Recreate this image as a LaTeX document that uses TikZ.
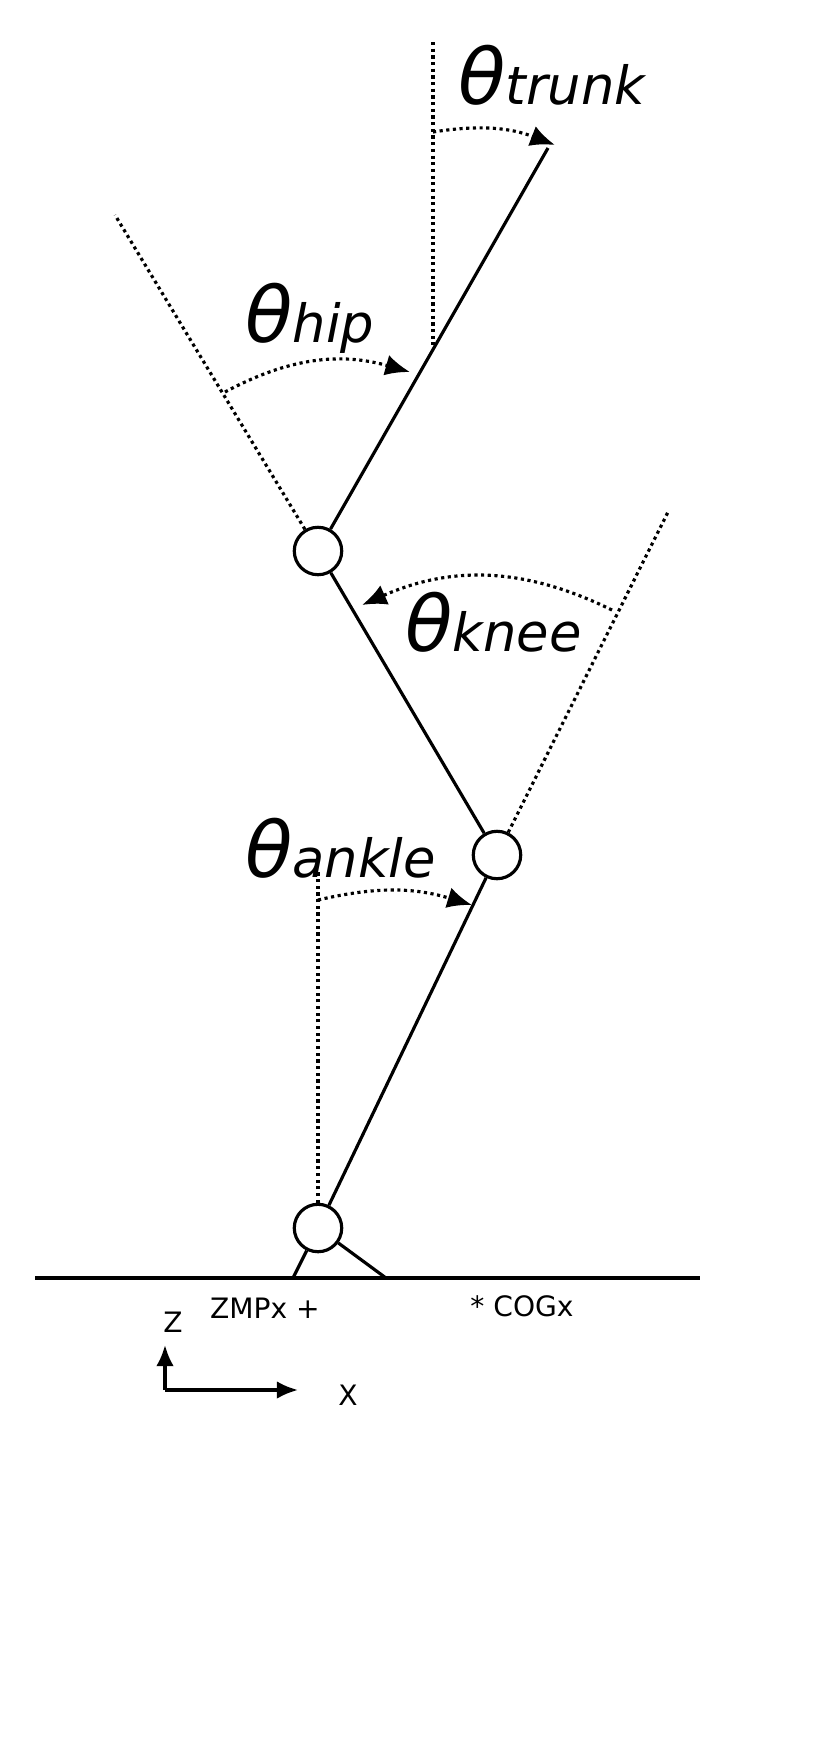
\documentclass[tikz,border=0pt]{standalone}
\usepackage{fontspec}
\setmainfont{DejaVu Sans}
\usetikzlibrary{arrows.meta,positioning}
\tikzset{
  limb/.style={line width=1.8pt},
  guide/.style={dotted,line width=1.8pt},
  turn/.style={dotted,line width=1.8pt,-{Latex[length=14pt,width=12pt]}},
  joint/.style={circle,draw,fill=white,line width=1.8pt,minimum size=27pt,inner sep=0pt},
  angle/.style={font=\fontsize{44}{48}\selectfont\itshape,inner sep=0pt},
  small/.style={font=\fontsize{16}{18}\selectfont,inner sep=0pt}
}
\newcommand{\ang}[1]{θ{\fontsize{30}{32}\selectfont #1}}
\begin{document}
\begin{tikzpicture}[x=0.02cm,y=-0.02cm]
	\useasboundingbox (0,0) rectangle (814,1738);
	% links
	\coordinate (top) at (548,148);
	\node[joint] (hip) at (318,551) {};
	\node[joint] (knee) at (497,855) {};
	\node[joint] (ankle) at (318,1228) {};
	\draw[limb] (top) -- (hip);
	\draw[limb] (hip) -- (knee);
	\draw[limb] (knee) -- (ankle);
	% foot and ground
	\coordinate (gl) at (35,1278);
	\coordinate (gr) at (700,1278);
	\draw[limb] (gl) -- (gr);
	\draw[limb] (ankle) -- (293,1278);
	\draw[limb] (ankle) -- (386,1278);
	% guides
	\draw[guide] (433,42) -- (433,345);
	\draw[guide] (hip) -- (115,215);
	\draw[guide] (knee) -- (668,512);
	\draw[guide] (ankle) -- (318,870);
	% angles
	\draw[turn] (433,132) to[bend left=15] (555,145);
	\draw[turn] (225,392) to[bend left=22] (410,372);
	\draw[turn] (612,610) to[bend right=25] (362,605);
	\draw[turn] (318,900) to[bend left=15] (472,905);
	\node[angle,anchor=west] (ltrunk) at (458,75) {\ang{trunk}};
	\node[angle,anchor=west] (lhip) at (245,318) {\ang{hip}};
	\node[angle,anchor=west] (lknee) at (405,622) {\ang{knee}};
	\node[angle,anchor=west] (lankle) at (245,848) {\ang{ankle}};
	% labels
	\node[small] (zmp) at (265,1308) {ZMPx +};
	\node[small] (cog) at (522,1306) {* COGx};
	\node[small] (lz) at (173,1322) {Z};
	\node[small] (lx) at (348,1395) {X};
	% axes
	\coordinate (o) at (165,1390);
	\draw[limb,-{Latex[length=12pt,width=10pt]}] (o) -- (165,1345);
	\draw[limb,-{Latex[length=12pt,width=10pt]}] (o) -- (298,1390);
\end{tikzpicture}
\end{document}
